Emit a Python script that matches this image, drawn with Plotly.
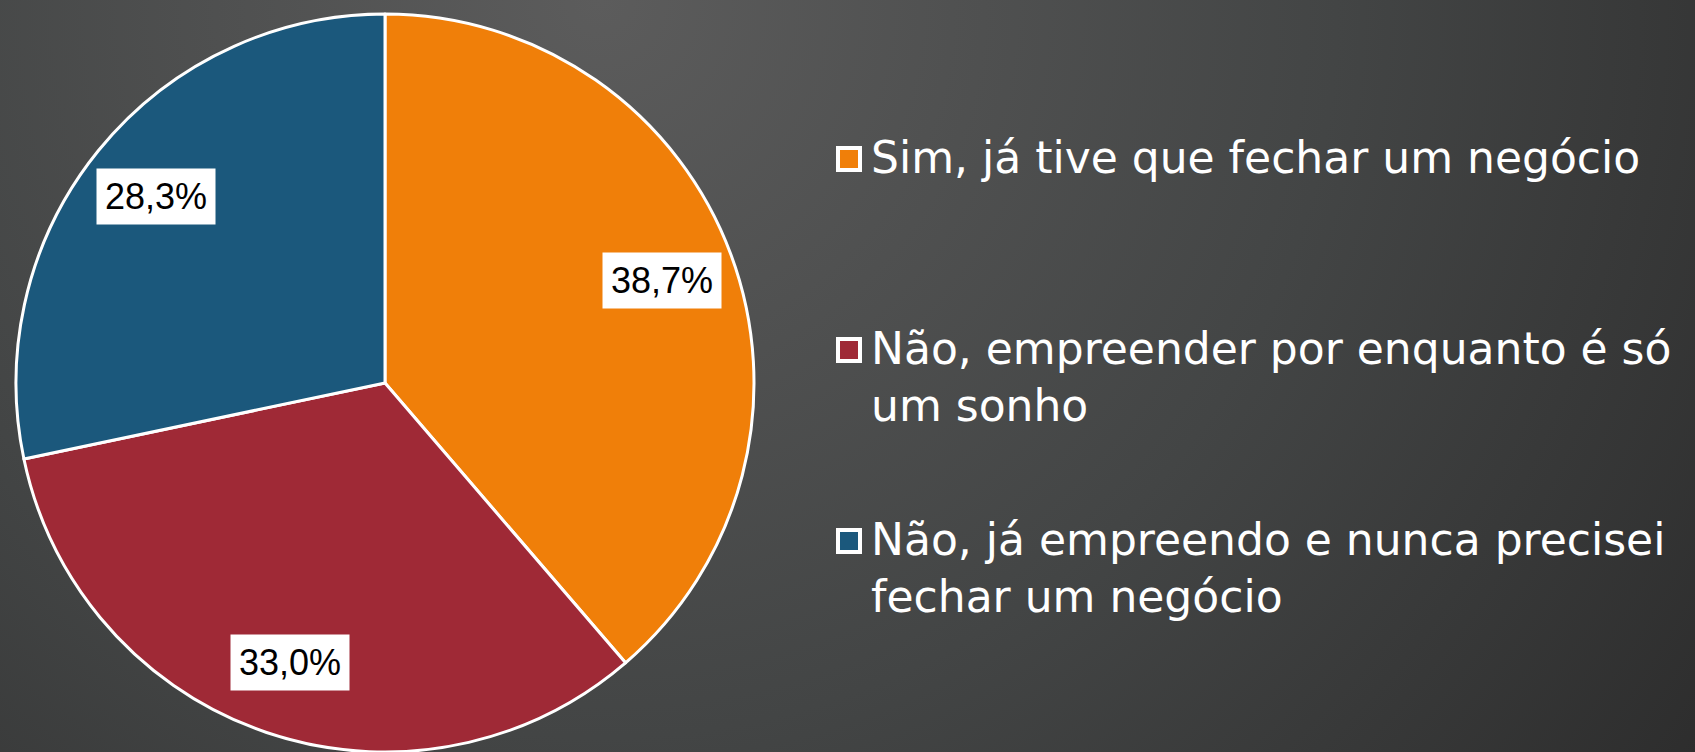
import base64
import math

import plotly.graph_objects as go

labels = [
    "Sim, já tive que fechar um negócio",
    "Não, empreender por enquanto é só um sonho",
    "Não, já empreendo e nunca precisei fechar um negócio",
]
legend_text = [
    "Sim, já tive que fechar um negócio",
    "Não, empreender por enquanto é só<br>um sonho",
    "Não, já empreendo e nunca precisei<br>fechar um negócio",
]
values = [38.7, 33.0, 28.3]
pct_text = ["38,7%", "33,0%", "28,3%"]
colors = ["#F07F09", "#9F2936", "#1B587C"]

W, H = 1695, 752

# radial background
svg = (
    f'<svg xmlns="http://www.w3.org/2000/svg" width="{W}" height="{H}">'
    '<defs><radialGradient id="g" gradientUnits="userSpaceOnUse" '
    f'cx="600" cy="0" r="1340">'
    '<stop offset="0" stop-color="#5c5c5c"/>'
    '<stop offset="0.55" stop-color="#434545"/>'
    '<stop offset="1" stop-color="#2d2d2d"/>'
    '</radialGradient></defs>'
    f'<rect width="{W}" height="{H}" fill="url(#g)"/></svg>'
)
bg_uri = "data:image/svg+xml;base64," + base64.b64encode(svg.encode()).decode()

# pie placement in pixels
cx_px, cy_px, r_px = 385, 383, 369
dom_x = [(cx_px - r_px) / W, (cx_px + r_px) / W]
dom_y = [max(0, (H - cy_px - r_px) / H), (H - cy_px + r_px) / H]

fig = go.Figure()

fig.add_trace(
    go.Pie(
        labels=labels,
        values=values,
        sort=False,
        direction="clockwise",
        rotation=0,
        marker=dict(colors=colors, line=dict(color="white", width=3)),
        textinfo="none",
        hoverinfo="label+percent",
        showlegend=False,
        domain=dict(x=dom_x, y=dom_y),
    )
)

# percentage labels in white boxes, at the middle angle of each slice
total = sum(values)
cum = 0
for v, t in zip(values, pct_text):
    mid = (cum + v / 2) / total * 2 * math.pi
    cum += v
    dx = 0.8 * r_px * math.sin(mid)
    dy = 0.8 * r_px * math.cos(mid)
    fig.add_annotation(
        x=(cx_px + dx) / W,
        y=(H - cy_px + dy) / H,
        xref="paper",
        yref="paper",
        xanchor="center",
        yanchor="middle",
        text=t,
        showarrow=False,
        font=dict(family="Liberation Sans, Arial", size=36, color="black"),
        bgcolor="white",
        width=110,
        height=47,
        borderpad=4,
    )

# legend drawn by hand (large squares with white border)
leg_y = [159, 350, 541]
for txt, col, yc in zip(legend_text, colors, leg_y):
    fig.add_shape(
        type="rect",
        xref="paper",
        yref="paper",
        x0=838 / W,
        x1=860 / W,
        y0=(H - yc - 11) / H,
        y1=(H - yc + 11) / H,
        fillcolor=col,
        line=dict(color="white", width=4),
    )
    fig.add_annotation(
        x=869 / W,
        y=(H - yc + 29) / H,
        xref="paper",
        yref="paper",
        xanchor="left",
        yanchor="top",
        align="left",
        text=txt,
        showarrow=False,
        font=dict(family="DejaVu Sans", size=44, color="white"),
    )

fig.update_layout(
    width=W,
    height=H,
    margin=dict(l=0, r=0, t=0, b=0),
    paper_bgcolor="#404040",
    plot_bgcolor="#404040",
    images=[
        dict(
            source=bg_uri,
            xref="paper",
            yref="paper",
            x=0,
            y=1,
            sizex=1,
            sizey=1,
            sizing="stretch",
            layer="below",
        )
    ],
)

fig.write_html(
    "out.html",
    config={"displayModeBar": False},
    post_script="document.body.style.margin='0';document.body.style.overflow='hidden';",
)
